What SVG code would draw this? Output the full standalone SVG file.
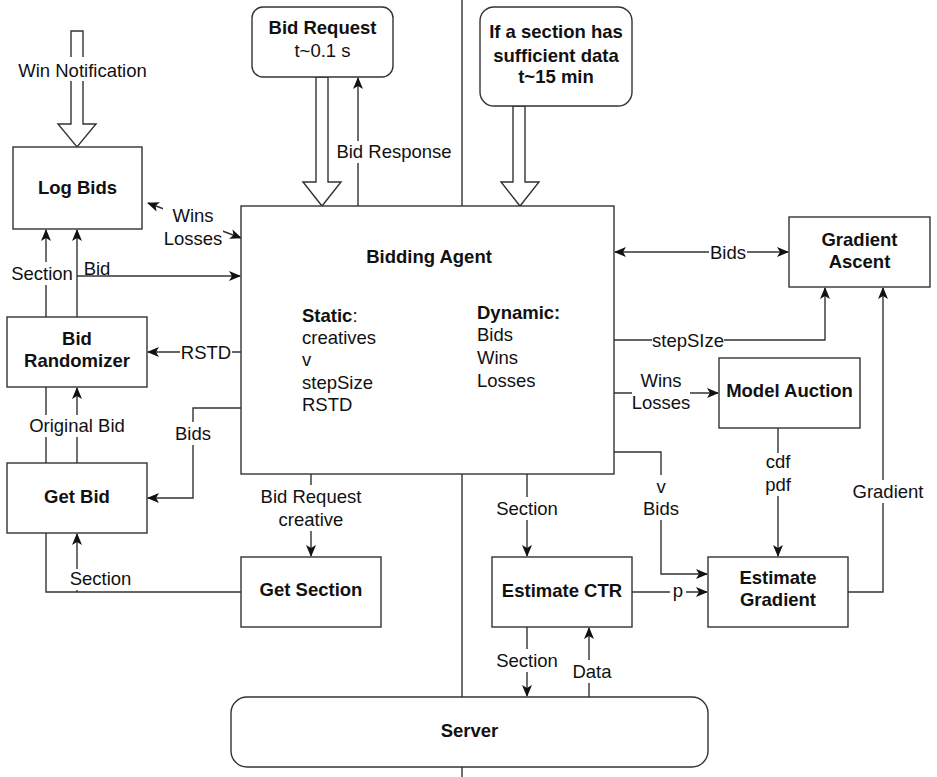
<svg xmlns="http://www.w3.org/2000/svg" width="937" height="777" viewBox="0 0 937 777">
<style>
text{font-family:"Liberation Sans",Arial,sans-serif;font-size:18.5px;fill:#111;}
.b{font-weight:bold;}
.m{text-anchor:middle;}
.box{fill:#fff;stroke:#333;stroke-width:1.4;}
.ln{fill:none;stroke:#333;stroke-width:1.4;}
.bg{fill:#fff;stroke:none;}
.hollow{fill:#fff;stroke:#333;stroke-width:1.4;stroke-linejoin:miter;}
</style>
<defs>
<marker id="ar" markerUnits="userSpaceOnUse" markerWidth="12" markerHeight="10" refX="11" refY="5" orient="auto-start-reverse" viewBox="0 0 12 10">
<path d="M0,0 L12,5 L0,10 L3,5 Z" fill="#111"/>
</marker>
</defs>
<rect width="937" height="777" fill="#fff"/>
<line class="ln" x1="462" y1="0" x2="462" y2="777"/>
<g id="connectors">
<polygon class="hollow" points="71,31 83,31 83,124 96,124 77,147 58,124 71,124"/>
<polygon class="hollow" points="316,77 328,77 328,182 341,182 322,206 303,182 316,182"/>
<polygon class="hollow" points="513,106 525,106 525,182 539,182 520,206 501,182 513,182"/>
<line class="ln" x1="358" y1="206" x2="358" y2="78" marker-end="url(#ar)"/>
<line class="ln" x1="148" y1="203" x2="241" y2="238" marker-start="url(#ar)" marker-end="url(#ar)"/>
<polyline class="ln" points="241,592 46,592 46,230" marker-end="url(#ar)"/>
<line class="ln" x1="77" y1="592" x2="77" y2="534" marker-end="url(#ar)"/>
<line class="ln" x1="77" y1="317" x2="77" y2="230" marker-end="url(#ar)"/>
<line class="ln" x1="77" y1="276" x2="240" y2="276" marker-end="url(#ar)"/>
<line class="ln" x1="241" y1="352" x2="148" y2="352" marker-end="url(#ar)"/>
<polyline class="ln" points="241,408 193,408 193,498 148,498" marker-end="url(#ar)"/>
<line class="ln" x1="77" y1="463" x2="77" y2="388" marker-end="url(#ar)"/>
<line class="ln" x1="311" y1="474" x2="311" y2="556" marker-end="url(#ar)"/>
<line class="ln" x1="527" y1="474" x2="527" y2="556" marker-end="url(#ar)"/>
<line class="ln" x1="527" y1="627" x2="527" y2="696" marker-end="url(#ar)"/>
<line class="ln" x1="589" y1="697" x2="589" y2="628" marker-end="url(#ar)"/>
<line class="ln" x1="615" y1="252" x2="788" y2="252" marker-start="url(#ar)" marker-end="url(#ar)"/>
<polyline class="ln" points="614,340 825,340 825,288" marker-end="url(#ar)"/>
<line class="ln" x1="614" y1="393" x2="718" y2="393" marker-end="url(#ar)"/>
<polyline class="ln" points="614,452 661,452 661,574 707,574" marker-end="url(#ar)"/>
<line class="ln" x1="778" y1="428" x2="778" y2="556" marker-end="url(#ar)"/>
<line class="ln" x1="632" y1="592" x2="707" y2="592" marker-end="url(#ar)"/>
<polyline class="ln" points="848,592 883,592 883,288" marker-end="url(#ar)"/>
<!-- labels -->
<rect class="bg" x="17" y="57" width="131" height="24"/>
<text class="m" x="82.5" y="77">Win Notification</text>
<rect class="bg" x="336" y="141" width="116" height="22"/>
<text class="m" x="394" y="158">Bid Response</text>
<rect class="bg" x="163" y="205" width="60" height="45"/>
<text class="m" x="193" y="222">Wins</text>
<text class="m" x="193" y="245">Losses</text>
<rect class="bg" x="11" y="262" width="62" height="23"/>
<text class="m" x="42" y="280">Section</text>
<rect class="bg" x="83" y="259" width="28" height="16"/>
<text class="m" x="97" y="275">Bid</text>
<rect class="bg" x="180" y="341" width="52" height="22"/>
<text class="m" x="206" y="358.5">RSTD</text>
<rect class="bg" x="174" y="422" width="39" height="23"/>
<text class="m" x="193" y="440">Bids</text>
<rect class="bg" x="27" y="415" width="100" height="22"/>
<text class="m" x="77" y="432">Original Bid</text>
<rect class="bg" x="69" y="569" width="63" height="21"/>
<text class="m" x="100.5" y="585">Section</text>
<rect class="bg" x="258" y="485" width="106" height="46"/>
<text class="m" x="311" y="503">Bid Request</text>
<text class="m" x="311" y="526">creative</text>
<rect class="bg" x="497" y="497" width="60" height="23"/>
<text class="m" x="527" y="515">Section</text>
<rect class="bg" x="495" y="649" width="64" height="23"/>
<text class="m" x="527" y="667">Section</text>
<rect class="bg" x="571" y="660" width="42" height="23"/>
<text class="m" x="592" y="678">Data</text>
<rect class="bg" x="709" y="241" width="38" height="22"/>
<text class="m" x="728" y="258.5">Bids</text>
<rect class="bg" x="652" y="329" width="72" height="23"/>
<text class="m" x="688" y="346.5">stepSIze</text>
<rect class="bg" x="632" y="370" width="58" height="44"/>
<text class="m" x="661" y="387">Wins</text>
<text class="m" x="661" y="409">Losses</text>
<rect class="bg" x="642" y="475" width="38" height="45"/>
<text class="m" x="661" y="493">v</text>
<text class="m" x="661" y="515">Bids</text>
<rect class="bg" x="762" y="453" width="32" height="43"/>
<text class="m" x="778" y="468">cdf</text>
<text class="m" x="778" y="491">pdf</text>
<rect class="bg" x="670" y="582" width="16" height="19"/>
<text class="m" x="678" y="597">p</text>
<rect class="bg" x="852" y="480" width="74" height="23"/>
<text class="m" x="888" y="498">Gradient</text>
</g>
<g id="bid-request"><rect class="box" x="252" y="7" width="141" height="70" rx="11"/><text class="m b" x="322.5" y="34">Bid Request</text><text class="m" x="322.5" y="57">t~0.1 s</text></g>
<g id="section-trigger"><rect class="box" x="480" y="7" width="152" height="99" rx="14"/><text class="m b" x="556" y="38">If a section has</text><text class="m b" x="556" y="62">sufficient data</text><text class="m b" x="556" y="83">t~15 min</text></g>
<g id="log-bids"><rect class="box" x="13" y="147" width="129" height="82"/><text class="m b" x="77.5" y="194">Log Bids</text></g>
<g id="bidding-agent"><rect class="box" x="241" y="206" width="373" height="268"/>
<text class="m b" x="429" y="263">Bidding Agent</text>
<text x="302" y="322"><tspan class="b">Static</tspan>:</text>
<text x="302" y="344">creatives</text>
<text x="302" y="366">v</text>
<text x="302" y="389">stepSize</text>
<text x="302" y="411">RSTD</text>
<text class="b" x="477" y="319">Dynamic:</text>
<text x="477" y="341">Bids</text>
<text x="477" y="364">Wins</text>
<text x="477" y="387">Losses</text>
</g>
<g id="gradient-ascent"><rect class="box" x="789" y="217" width="141" height="70"/><text class="m b" x="859.5" y="246">Gradient</text><text class="m b" x="859.5" y="268">Ascent</text></g>
<g id="bid-randomizer"><rect class="box" x="7" y="317" width="140" height="70"/><text class="m b" x="77" y="345">Bid</text><text class="m b" x="77" y="367">Randomizer</text></g>
<g id="model-auction"><rect class="box" x="719" y="358" width="141" height="70"/><text class="m b" x="789.5" y="397">Model Auction</text></g>
<g id="get-bid"><rect class="box" x="7" y="463" width="140" height="70"/><text class="m b" x="77" y="503">Get Bid</text></g>
<g id="get-section"><rect class="box" x="241" y="557" width="140" height="70"/><text class="m b" x="311" y="596">Get Section</text></g>
<g id="estimate-ctr"><rect class="box" x="492" y="557" width="140" height="70"/><text class="m b" x="562" y="597">Estimate CTR</text></g>
<g id="estimate-gradient"><rect class="box" x="708" y="557" width="140" height="70"/><text class="m b" x="778" y="584">Estimate</text><text class="m b" x="778" y="606">Gradient</text></g>
<g id="server"><rect class="box" x="231" y="697" width="477" height="70" rx="16"/><text class="m b" x="469.5" y="737">Server</text></g>
</svg>
